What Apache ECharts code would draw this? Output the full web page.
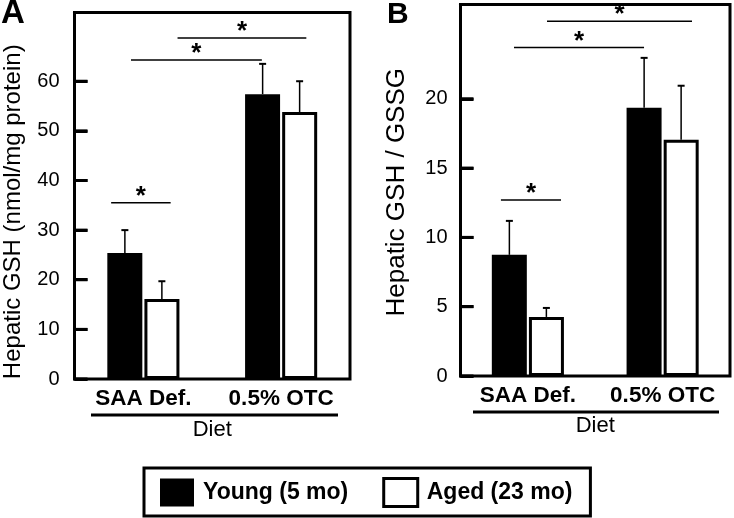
<!DOCTYPE html>
<html>
<head>
<meta charset="utf-8">
<script src="https://cdn.jsdelivr.net/npm/echarts@6/dist/echarts.min.js"></script>
<style>html,body{margin:0;padding:0;background:#fff}#c{width:734px;height:518px}</style>
</head>
<body>
<div id="c"></div>
<script>
const categories = ['SAA Def.', '0.5% OTC'];
const seriesNames = ['Young (5 mo)', 'Aged (23 mo)'];
// Panel A: Hepatic GSH (nmol/mg protein)
const gshYoung = [25.4, 57.4];
const gshYoungErr = [4.6, 6.1];
const gshAged = [16.1, 53.8];
const gshAgedErr = [3.6, 6.2];
const gshTicks = [0, 10, 20, 30, 40, 50, 60];
// Panel B: Hepatic GSH / GSSG
const ratioYoung = [8.74, 19.35];
const ratioYoungErr = [2.45, 3.6];
const ratioAged = [4.26, 17.04];
const ratioAgedErr = [0.65, 3.9];
const ratioTicks = [0, 5, 10, 15, 20];
// significance brackets: [from (category units), to (category units), level]
const gshBrackets = [[-0.234, 0.198, 35.5], [-0.09, 0.86, 64.3], [0.248, 1.183, 68.7]];
const ratioBrackets = [[-0.2, 0.246, 12.7], [-0.103, 0.862, 23.7], [0.142, 1.218, 25.6]];

const FONT = '"Liberation Sans", Arial, Helvetica, sans-serif';
const BAR_W = 35, GAP = 2;

function errRender(params, api) {
  const i = api.value(0), v = api.value(1), e = api.value(2), s = api.value(3);
  const p0 = api.coord([i, v]);
  const p1 = api.coord([i, v + e]);
  const x = p0[0] + (s === 0 ? -1 : 1) * (BAR_W / 2 + GAP / 2);
  return {
    type: 'group',
    children: [
      { type: 'line', shape: { x1: x, y1: p0[1], x2: x, y2: p1[1] }, style: { stroke: '#000', lineWidth: 1.5 } },
      { type: 'line', shape: { x1: x - 3.5, y1: p1[1], x2: x + 3.5, y2: p1[1] }, style: { stroke: '#000', lineWidth: 2 } }
    ]
  };
}
// annotations: kind 0 = significance bracket, kind 1 = inward y-axis tick
function annotRender(params, api) {
  const kind = api.value(4);
  const p = api.coord([0, api.value(1)]);
  const w = api.size([1, 0])[0];
  if (kind === 1) {
    const x0 = p[0] - w / 2;
    return { type: 'rect', shape: { x: x0, y: p[1] - 1.5, width: 13, height: 3 }, style: { fill: '#000' } };
  }
  const x1 = p[0] + api.value(2) * w;
  const x2 = p[0] + api.value(3) * w;
  return {
    type: 'group',
    children: [
      { type: 'line', shape: { x1: x1, y1: p[1], x2: x2, y2: p[1] }, style: { stroke: '#000', lineWidth: 1.5 } },
      { type: 'text', style: { text: '*', x: (x1 + x2) / 2, y: p[1] + 7, fill: '#000', font: 'bold 26px ' + FONT, align: 'center', verticalAlign: 'bottom' } }
    ]
  };
}
function errData(vals, errs, s) { return categories.map((c, i) => [i, vals[i], errs[i], s]); }
function annotData(br, ticks) {
  return br.map(b => [0, b[2], b[0], b[1], 0]).concat(ticks.map(v => [0, v, 0, 0, 1]));
}

function yAxis(idx, max, ticks, name, gap, margin, nameSize, namePad) {
  return {
    type: 'value', gridIndex: idx, min: 0, max: max,
    name: name, nameLocation: 'middle', nameGap: gap, nameRotate: 90,
    nameTextStyle: { fontFamily: FONT, fontSize: nameSize, color: '#000', padding: namePad },
    axisLine: { show: true, lineStyle: { color: '#000', width: 3 } },
    splitLine: { show: false },
    axisTick: { show: true, inside: true, length: 13, lineStyle: { color: '#000', width: 3 }, customValues: ticks },
    axisLabel: { fontFamily: FONT, fontSize: 20, color: '#000', margin: margin, customValues: ticks }
  };
}
function xAxis(idx, gap) {
  return {
    type: 'category', gridIndex: idx, data: categories,
    name: 'Diet', nameLocation: 'middle', nameGap: gap,
    nameTextStyle: { fontFamily: FONT, fontSize: 22, color: '#000' },
    axisLine: { show: false }, axisTick: { show: false },
    axisLabel: { interval: 0, fontFamily: FONT, fontSize: 22.5, fontWeight: 'bold', color: '#000', margin: 8, hideOverlap: false }
  };
}
function bars(idx, young, aged) {
  return [
    { type: 'bar', name: seriesNames[0], xAxisIndex: idx, yAxisIndex: idx, data: young, barWidth: BAR_W, barGap: '6%',
      itemStyle: { color: '#000' }, silent: true, z: 2 },
    { type: 'bar', name: seriesNames[1], xAxisIndex: idx, yAxisIndex: idx, data: aged, barWidth: BAR_W, barGap: '6%',
      itemStyle: { color: '#fff', borderColor: '#000', borderWidth: 3 }, silent: true, z: 2 }
  ];
}

const chart = echarts.init(document.getElementById('c'), null, { renderer: 'canvas' });
chart.setOption({
  animation: false,
  backgroundColor: '#fff',
  grid: [
    { left: 72, top: 12.5, width: 278, height: 366.5, show: true, borderColor: '#000', borderWidth: 3, backgroundColor: 'transparent' },
    { left: 460.5, top: 4.5, width: 269.5, height: 371.5, show: true, borderColor: '#000', borderWidth: 3, backgroundColor: 'transparent' }
  ],
  xAxis: [xAxis(0, 40), xAxis(1, 39)],
  yAxis: [
    yAxis(0, 73.85, gshTicks, 'Hepatic GSH (nmol/mg protein)', 49.5, 15, 24, [0, 32, 0, 0]),
    yAxis(1, 26.8, ratioTicks, 'Hepatic GSH / GSSG', 50.5, 13, 26, [0, 4, 0, 0])
  ],
  legend: {
    left: 144, top: 468,
    data: [
      { name: seriesNames[0], itemStyle: { color: '#000', borderWidth: 0 } },
      { name: seriesNames[1], itemStyle: { color: '#fff', borderColor: '#000', borderWidth: 3 } }
    ],
    icon: 'rect', itemWidth: 34, itemHeight: 28, itemGap: 34,
    padding: [9, 18, 8, 16],
    borderColor: '#000', borderWidth: 3,
    textStyle: { fontFamily: FONT, fontSize: 23, fontWeight: 'bold', color: '#000', padding: [0, 0, 0, 4] },
    selectedMode: false
  },
  graphic: [
    { type: 'text', left: 1, top: -3, style: { text: 'A', font: 'bold 33px ' + FONT, fill: '#000' } },
    { type: 'text', left: 387, top: 0, style: { text: 'B', font: 'bold 30px ' + FONT, fill: '#000' } },
    { type: 'line', shape: { x1: 91, y1: 415, x2: 338, y2: 415 }, style: { stroke: '#000', lineWidth: 3 } },
    { type: 'line', shape: { x1: 473, y1: 412, x2: 719, y2: 412 }, style: { stroke: '#000', lineWidth: 3 } }
  ],
  series: [
    ...bars(0, gshYoung, gshAged),
    ...bars(1, ratioYoung, ratioAged),
    { type: 'custom', xAxisIndex: 0, yAxisIndex: 0, renderItem: errRender, z: 5, silent: true,
      data: errData(gshYoung, gshYoungErr, 0).concat(errData(gshAged, gshAgedErr, 1)) },
    { type: 'custom', xAxisIndex: 1, yAxisIndex: 1, renderItem: errRender, z: 5, silent: true,
      data: errData(ratioYoung, ratioYoungErr, 0).concat(errData(ratioAged, ratioAgedErr, 1)) },
    { type: 'custom', xAxisIndex: 0, yAxisIndex: 0, renderItem: annotRender, z: 5, silent: true, clip: false,
      data: annotData(gshBrackets, gshTicks) },
    { type: 'custom', xAxisIndex: 1, yAxisIndex: 1, renderItem: annotRender, z: 5, silent: true, clip: false,
      data: annotData(ratioBrackets, ratioTicks) }
  ]
});
</script>
</body>
</html>
